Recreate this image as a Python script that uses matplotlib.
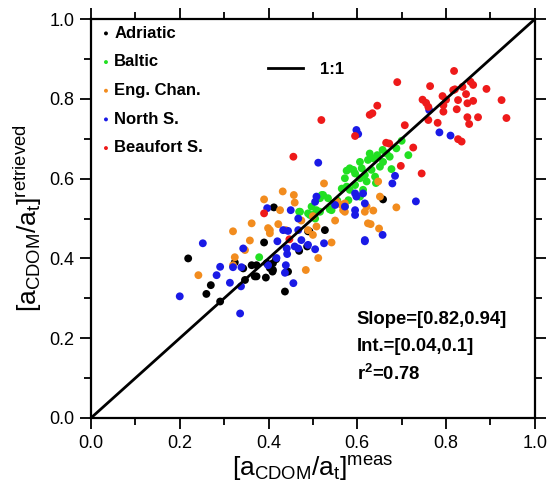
import matplotlib
matplotlib.use("Agg")
import matplotlib.pyplot as plt
from matplotlib.lines import Line2D

plt.rcParams['font.family'] = ['Liberation Sans', 'DejaVu Sans']
plt.rcParams['mathtext.fontset'] = 'custom'
plt.rcParams['mathtext.rm'] = 'Liberation Sans'
plt.rcParams['mathtext.it'] = 'Liberation Sans'
plt.rcParams['mathtext.bf'] = 'Liberation Sans:bold'

adriatic_x = [0.412, 0.219, 0.390, 0.489, 0.527, 0.487, 0.373, 0.396, 0.410, 0.324,
              0.343, 0.373, 0.394, 0.409, 0.441, 0.347, 0.270, 0.260, 0.291, 0.437,
              0.362, 0.369, 0.403, 0.410, 0.444, 0.469, 0.417, 0.658, 0.492]
adriatic_y = [0.528, 0.400, 0.440, 0.468, 0.471, 0.430, 0.383, 0.388, 0.388, 0.390,
              0.375, 0.355, 0.352, 0.367, 0.367, 0.346, 0.333, 0.311, 0.292, 0.317,
              0.383, 0.355, 0.376, 0.371, 0.367, 0.419, 0.398, 0.548, 0.468]

baltic_x = [0.700, 0.688, 0.657, 0.666, 0.673, 0.645, 0.628, 0.636, 0.624, 0.606,
            0.715, 0.658, 0.651, 0.677, 0.632, 0.610, 0.583, 0.576, 0.595, 0.617,
            0.572, 0.606, 0.640, 0.621, 0.642, 0.595, 0.576, 0.565, 0.606, 0.580,
            0.572, 0.591, 0.520, 0.471, 0.493, 0.505, 0.516, 0.542, 0.379, 0.613,
            0.583, 0.523, 0.534, 0.516, 0.546, 0.497, 0.508, 0.489, 0.538, 0.469,
            0.500, 0.555]
baltic_y = [0.695, 0.676, 0.672, 0.663, 0.655, 0.659, 0.663, 0.651, 0.647, 0.642,
            0.659, 0.642, 0.630, 0.624, 0.622, 0.626, 0.626, 0.620, 0.613, 0.609,
            0.601, 0.601, 0.605, 0.593, 0.589, 0.584, 0.580, 0.575, 0.555, 0.546,
            0.530, 0.622, 0.559, 0.517, 0.509, 0.500, 0.517, 0.521, 0.403, 0.572,
            0.572, 0.559, 0.551, 0.551, 0.538, 0.530, 0.521, 0.513, 0.523, 0.517,
            0.509, 0.545]

engchan_x = [0.525, 0.432, 0.457, 0.459, 0.390, 0.426, 0.362, 0.320, 0.399, 0.422,
             0.403, 0.358, 0.347, 0.324, 0.320, 0.242, 0.484, 0.512, 0.542, 0.500,
             0.489, 0.474, 0.508, 0.550, 0.572, 0.553, 0.565, 0.647, 0.572, 0.568,
             0.617, 0.636, 0.688, 0.630, 0.649, 0.651, 0.439, 0.621, 0.624, 0.557,
             0.500, 0.403]
engchan_y = [0.588, 0.568, 0.559, 0.540, 0.548, 0.521, 0.488, 0.468, 0.476, 0.486,
             0.463, 0.445, 0.421, 0.403, 0.383, 0.358, 0.371, 0.401, 0.440, 0.459,
             0.471, 0.495, 0.480, 0.495, 0.517, 0.543, 0.534, 0.593, 0.538, 0.521,
             0.517, 0.520, 0.528, 0.486, 0.475, 0.555, 0.471, 0.530, 0.488, 0.538,
             0.506, 0.471]

northsea_x = [0.512, 0.252, 0.200, 0.336, 0.291, 0.283, 0.313, 0.320, 0.338, 0.343,
              0.339, 0.397, 0.420, 0.418, 0.399, 0.439, 0.441, 0.442, 0.433, 0.444,
              0.467, 0.459, 0.474, 0.467, 0.489, 0.505, 0.456, 0.437, 0.525, 0.450,
              0.467, 0.508, 0.505, 0.550, 0.572, 0.595, 0.598, 0.598, 0.602, 0.685,
              0.679, 0.595, 0.613, 0.595, 0.617, 0.732, 0.657, 0.617, 0.762, 0.785,
              0.810, 0.617]
northsea_y = [0.640, 0.438, 0.305, 0.262, 0.379, 0.358, 0.339, 0.378, 0.330, 0.425,
              0.378, 0.526, 0.443, 0.401, 0.383, 0.383, 0.425, 0.411, 0.471, 0.469,
              0.471, 0.430, 0.446, 0.425, 0.434, 0.423, 0.338, 0.364, 0.438, 0.521,
              0.500, 0.555, 0.542, 0.534, 0.530, 0.521, 0.555, 0.722, 0.712, 0.607,
              0.588, 0.563, 0.563, 0.509, 0.538, 0.543, 0.459, 0.446, 0.772, 0.716,
              0.708, 0.443]

beaufort_x = [0.818, 0.690, 0.764, 0.820, 0.837, 0.855, 0.861, 0.891, 0.925, 0.936,
              0.747, 0.755, 0.760, 0.792, 0.800, 0.794, 0.827, 0.845, 0.848, 0.861,
              0.824, 0.794, 0.760, 0.781, 0.848, 0.852, 0.872, 0.645, 0.634, 0.628,
              0.595, 0.707, 0.827, 0.835, 0.672, 0.726, 0.698, 0.745, 0.519, 0.456,
              0.390, 0.447, 0.665, 0.816]
beaufort_y = [0.870, 0.842, 0.832, 0.824, 0.830, 0.843, 0.835, 0.825, 0.797, 0.752,
              0.798, 0.790, 0.780, 0.807, 0.798, 0.784, 0.797, 0.812, 0.789, 0.795,
              0.774, 0.768, 0.747, 0.740, 0.754, 0.737, 0.754, 0.783, 0.764, 0.760,
              0.707, 0.734, 0.699, 0.693, 0.688, 0.678, 0.632, 0.613, 0.747, 0.655,
              0.513, 0.448, 0.690, 0.822]

groups = [
    ("Adriatic", adriatic_x, adriatic_y, "black"),
    ("Baltic", baltic_x, baltic_y, "#22e022"),
    ("Eng. Chan.", engchan_x, engchan_y, "#f28c1e"),
    ("North S.", northsea_x, northsea_y, "#1a1ae6"),
    ("Beaufort S.", beaufort_x, beaufort_y, "#ee1a1a"),
]

fig = plt.figure(figsize=(5.48, 4.90), dpi=100)
ax = fig.add_axes([0.166, 0.147, 0.810, 0.814])

for name, xs, ys, col in groups:
    ax.scatter(xs, ys, s=32, color=col, edgecolors='none', label=name, zorder=3)

ax.plot([0, 1], [0, 1], color='black', lw=2, zorder=4)

ax.set_xlim(0, 1)
ax.set_ylim(0, 1)
ax.set_xticks([0, 0.2, 0.4, 0.6, 0.8, 1.0])
ax.set_yticks([0, 0.2, 0.4, 0.6, 0.8, 1.0])
ax.set_xticks([0.1, 0.3, 0.5, 0.7, 0.9], minor=True)
ax.set_yticks([0.1, 0.3, 0.5, 0.7, 0.9], minor=True)
ax.set_xticklabels(['0.0', '0.2', '0.4', '0.6', '0.8', '1.0'])
ax.set_yticklabels(['0.0', '0.2', '0.4', '0.6', '0.8', '1.0'])
ax.tick_params(which='both', direction='out', top=True, right=True,
               labelsize=13, width=1.3, pad=4)
ax.tick_params(which='major', length=8)
ax.tick_params(which='minor', length=5)
for s in ax.spines.values():
    s.set_linewidth(1.6)

ax.set_xlabel(r'$[\mathrm{a_{CDOM}/a_t}]^{\mathrm{meas}}$', fontsize=19, labelpad=2)
ax.set_ylabel(r'$[\mathrm{a_{CDOM}/a_t}]^{\mathrm{retrieved}}$', fontsize=19, labelpad=4)

leg = ax.legend(loc='upper left', frameon=False, handletextpad=0.0,
                labelspacing=0.82, borderaxespad=0.1, borderpad=0.3,
                markerscale=0.5, prop={'weight': 'bold', 'size': 12},
                handlelength=1.0)

ax.add_artist(leg)
one_line = Line2D([], [], color='black', lw=2)
ax.legend([one_line], ['1:1'], loc='upper left', bbox_to_anchor=(0.365, 0.93),
          frameon=False, prop={'weight': 'bold', 'size': 12}, handlelength=2.1,
          handletextpad=1.0)

stats = ['Slope=[0.82,0.94]', 'Int.=[0.04,0.1]', r'r$^{\mathbf{2}}$=0.78']
for i, t in enumerate(stats):
    ax.text(0.599, 0.248 - i * 0.069, t, transform=ax.transAxes,
            fontsize=13.3, fontweight='bold', va='center', ha='left')

fig.savefig('out.png', dpi=100)
